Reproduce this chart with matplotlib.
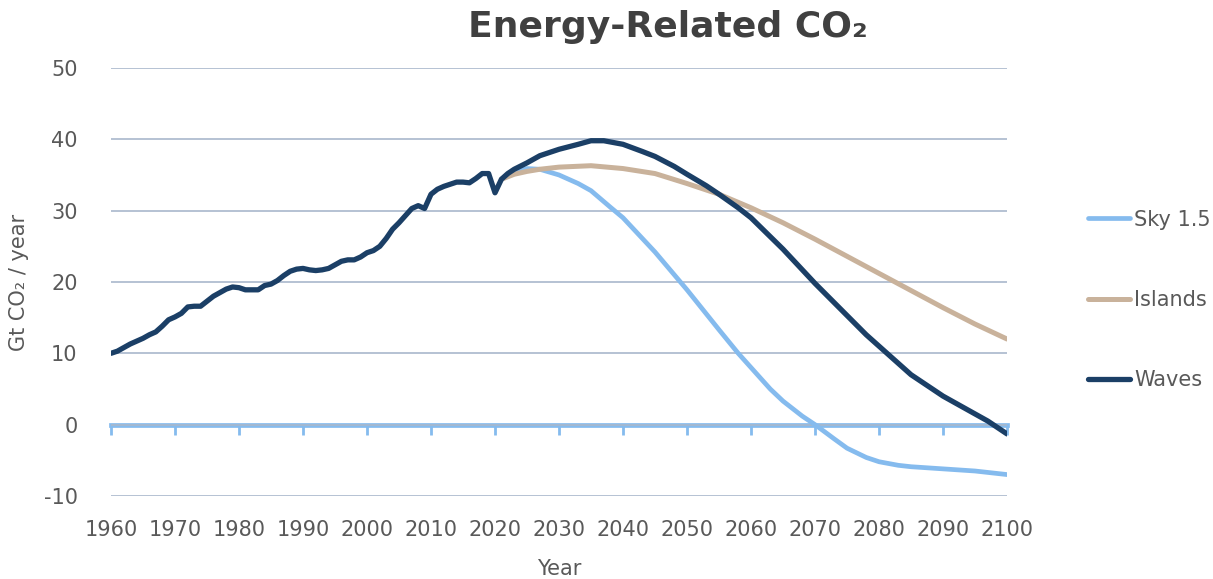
import matplotlib
matplotlib.use("Agg")
import matplotlib.pyplot as plt

# historical emissions (shared by all scenarios), Gt CO2 / year
hist_years = list(range(1960, 2021))
hist_vals = [10.0, 10.3, 10.8, 11.3, 11.7, 12.1, 12.6, 13.0, 13.8, 14.7,
             15.1, 15.6, 16.5, 16.6, 16.6, 17.3, 18.0, 18.5, 19.0, 19.3,
             19.2, 18.9, 18.9, 18.9, 19.5, 19.7, 20.2, 20.9, 21.5, 21.8,
             21.9, 21.7, 21.6, 21.7, 21.9, 22.4, 22.9, 23.1, 23.1, 23.5,
             24.1, 24.4, 25.0, 26.1, 27.4, 28.3, 29.3, 30.3, 30.7, 30.3,
             32.3, 33.0, 33.4, 33.7, 34.0, 34.0, 33.9, 34.5, 35.2, 35.2,
             32.5]

# scenario projections
sky_years = [2021, 2023, 2025, 2027, 2030, 2033, 2035, 2038, 2040, 2045,
             2050, 2055, 2058, 2060, 2063, 2065, 2068, 2070, 2073, 2075,
             2078, 2080, 2083, 2085, 2090, 2095, 2100]
sky_vals = [34.4, 35.5, 35.9, 35.8, 35.0, 33.8, 32.8, 30.5, 29.0, 24.2,
            18.9, 13.3, 10.0, 8.0, 5.0, 3.3, 1.2, 0.0, -2.0, -3.3,
            -4.6, -5.2, -5.7, -5.9, -6.2, -6.5, -7.0]

islands_years = [2021, 2023, 2025, 2027, 2030, 2035, 2040, 2045, 2050, 2055,
                 2060, 2065, 2070, 2075, 2080, 2085, 2090, 2095, 2100]
islands_vals = [34.4, 35.1, 35.5, 35.8, 36.1, 36.3, 35.9, 35.2, 33.8, 32.3,
                30.4, 28.3, 26.0, 23.6, 21.2, 18.8, 16.4, 14.1, 12.0]

waves_years = [2021, 2022, 2023, 2025, 2027, 2030, 2033, 2035, 2037, 2040,
               2043, 2045, 2048, 2050, 2053, 2055, 2058, 2060, 2065, 2070,
               2075, 2078, 2080, 2085, 2090, 2095, 2097, 2100]
waves_vals = [34.4, 35.2, 35.8, 36.7, 37.7, 38.6, 39.3, 39.8, 39.8, 39.3,
              38.3, 37.6, 36.2, 35.1, 33.5, 32.3, 30.4, 29.0, 24.6, 19.8,
              15.3, 12.6, 11.0, 7.0, 4.0, 1.5, 0.5, -1.3]

x_ticks = list(range(1960, 2101, 10))
y_ticks = list(range(-10, 51, 10))

text_gray = "#595959"
sky_c = "#85BBEE"
islands_c = "#C9B29B"
waves_c = "#1B3F66"

plt.rcParams["font.family"] = ["DejaVu Sans"]
plt.rcParams["axes.unicode_minus"] = False

fig = plt.figure(figsize=(12.13, 5.79), dpi=100)
ax = fig.add_axes([0.0915, 0.1434, 0.7387, 0.7392])

ax.set_xlim(1960, 2100)
ax.set_ylim(-10, 50)
ax.set_yticks(y_ticks)
ax.set_xticks(x_ticks)
ax.grid(axis="y", color="#A9B8CC", lw=1.2)
ax.set_axisbelow(True)
for s in ax.spines.values():
    s.set_visible(False)
ax.tick_params(axis="both", length=0, labelsize=15, colors=text_gray)
ax.tick_params(axis="x", pad=17)
ax.tick_params(axis="y", pad=24)

# zero line with tick marks
sec = ax.secondary_xaxis(1 / 6)
sec.set_xticks(x_ticks)
sec.tick_params(axis="x", direction="out", length=7, width=2,
                color=sky_c, labelbottom=False, labeltop=False)
sec.spines["bottom"].set_color(sky_c)
sec.spines["bottom"].set_linewidth(3.4)
sec.spines["top"].set_visible(False)

ax.plot(sky_years, sky_vals, color=sky_c, lw=3.4, label="Sky 1.5",
        solid_capstyle="round", zorder=3)
ax.plot(islands_years, islands_vals, color=islands_c, lw=3.6, label="Islands",
        solid_capstyle="round", zorder=4)
ax.plot(hist_years + waves_years, hist_vals + waves_vals, color=waves_c, lw=3.8,
        label="Waves", solid_capstyle="round", solid_joinstyle="round", zorder=5)

ax.set_xlabel("Year", fontsize=15, color=text_gray, labelpad=14)
ax.set_ylabel("Gt CO\u2082 / year", fontsize=15, color=text_gray)
ax.yaxis.set_label_coords(-0.092, 0.5)

fig.text(0.551, 0.953, "Energy-Related CO\u2082", fontsize=26, fontweight="bold",
         color="#404040", ha="center", va="center")

leg = fig.legend(loc="center left", bbox_to_anchor=(0.897, 0.482), frameon=False,
                 fontsize=15, labelspacing=2.9, handlelength=2.0,
                 handletextpad=0.2, borderpad=0, borderaxespad=0)
for t in leg.get_texts():
    t.set_color(text_gray)

fig.savefig("out.png", dpi=100)
